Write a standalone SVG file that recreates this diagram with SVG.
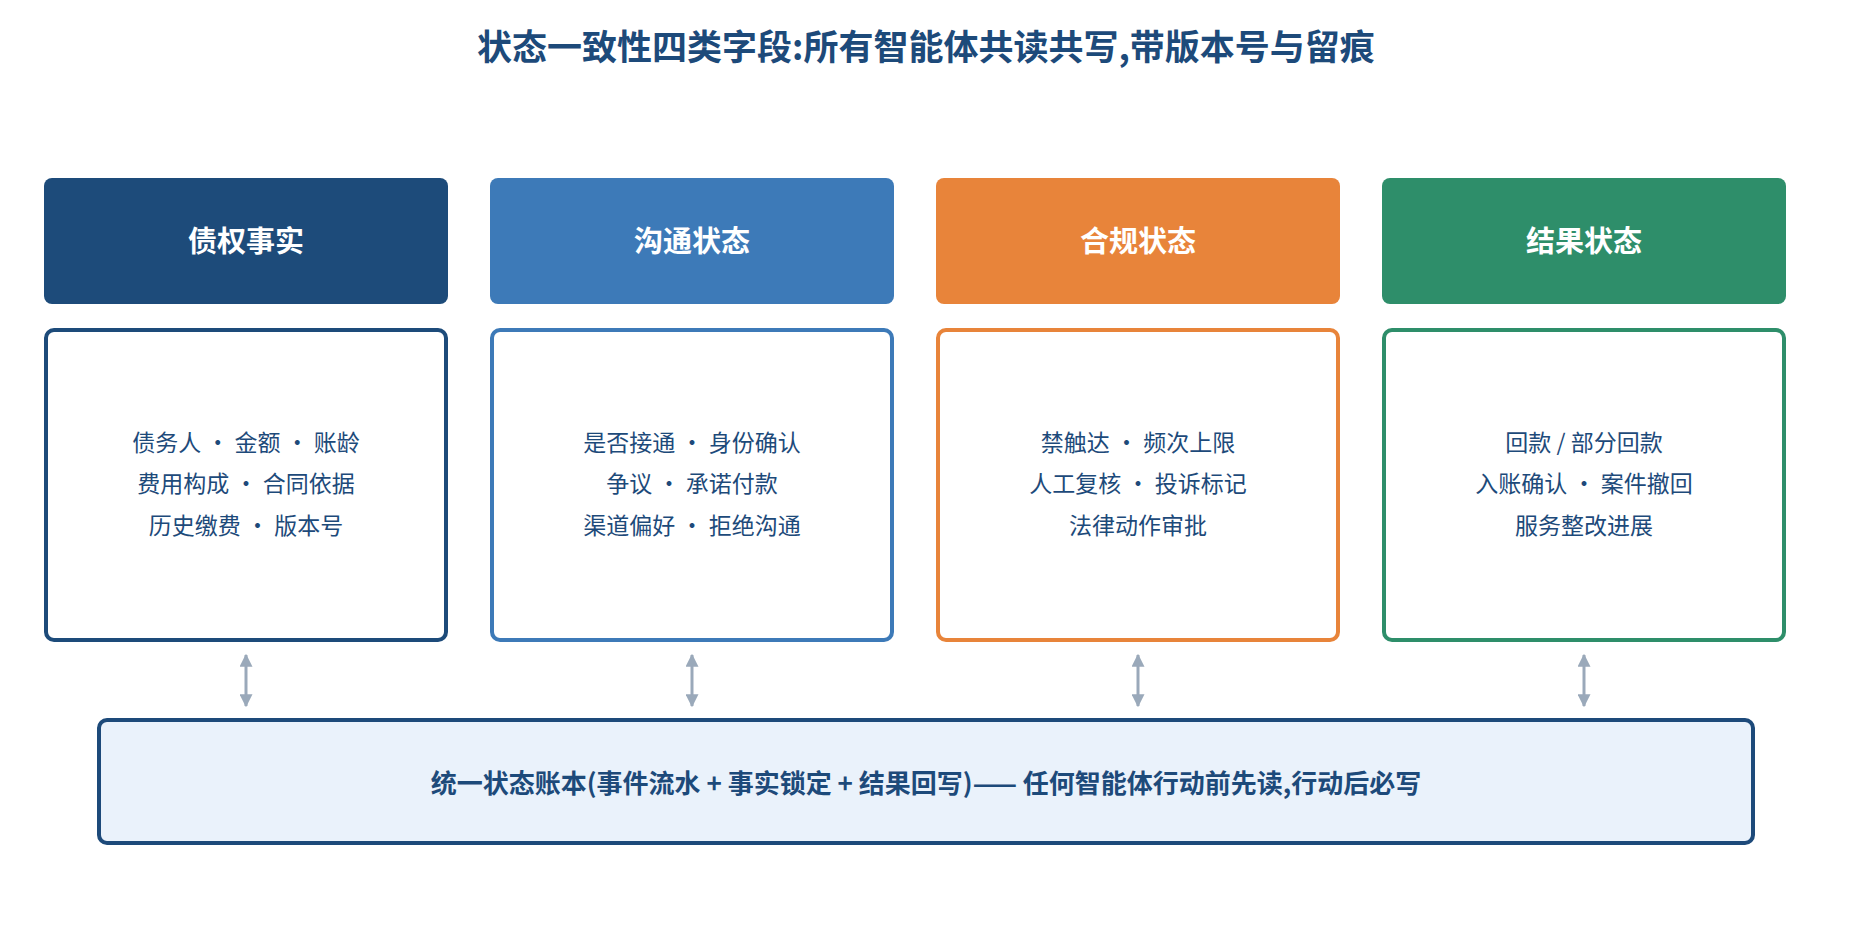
<svg xmlns="http://www.w3.org/2000/svg" width="1852" height="934" viewBox="0 0 1852 934">
<style>
text{font-family:"Noto Sans CJK SC","Noto Sans",sans-serif;text-anchor:middle;dominant-baseline:central}
.title{font-size:35px;font-weight:700;fill:#1d4a7a}
.hdr{font-size:29px;font-weight:700;fill:#ffffff}
.body{font-size:23px;fill:#1d4a7a}
.card{fill:#ffffff;stroke-width:4}
.conn{stroke:#9aa9ba;stroke-width:3;fill:none;marker-start:url(#ah);marker-end:url(#ah)}
.ledger{fill:#eaf2fb;stroke:#1d4a7a;stroke-width:4}
.ltxt{font-size:26px;font-weight:700;fill:#1d4a7a}
</style>
<defs>
<marker id="ah" viewBox="0 0 10 10" refX="9" refY="5" markerWidth="13" markerHeight="13" markerUnits="userSpaceOnUse" orient="auto-start-reverse">
<path d="M0,0 L10,5 L0,10 z" fill="#9aa9ba"/>
</marker>
</defs>
<rect width="1852" height="934" fill="#ffffff"/>
<text class="title" x="926" y="44">状态一致性四类字段:所有智能体共读共写,带版本号与留痕</text>

<g id="col1">
<rect x="44" y="178" width="404" height="126" rx="8" fill="#1d4b7a"/>
<text class="hdr" x="246" y="239">债权事实</text>
<rect class="card" x="46" y="330" width="400" height="310" rx="8" stroke="#1d4b7a"/>
<text class="body" x="246" y="441">债务人 · 金额 · 账龄</text>
<text class="body" x="246" y="482">费用构成 · 合同依据</text>
<text class="body" x="246" y="524">历史缴费 · 版本号</text>
</g>

<g id="col2">
<rect x="490" y="178" width="404" height="126" rx="8" fill="#3d7ab8"/>
<text class="hdr" x="692" y="239">沟通状态</text>
<rect class="card" x="492" y="330" width="400" height="310" rx="8" stroke="#3d7ab8"/>
<text class="body" x="692" y="441">是否接通 · 身份确认</text>
<text class="body" x="692" y="482">争议 · 承诺付款</text>
<text class="body" x="692" y="524">渠道偏好 · 拒绝沟通</text>
</g>

<g id="col3">
<rect x="936" y="178" width="404" height="126" rx="8" fill="#e8843a"/>
<text class="hdr" x="1138" y="239">合规状态</text>
<rect class="card" x="938" y="330" width="400" height="310" rx="8" stroke="#e8843a"/>
<text class="body" x="1138" y="441">禁触达 · 频次上限</text>
<text class="body" x="1138" y="482">人工复核 · 投诉标记</text>
<text class="body" x="1138" y="524">法律动作审批</text>
</g>

<g id="col4">
<rect x="1382" y="178" width="404" height="126" rx="8" fill="#2e8e6a"/>
<text class="hdr" x="1584" y="239">结果状态</text>
<rect class="card" x="1384" y="330" width="400" height="310" rx="8" stroke="#2e8e6a"/>
<text class="body" x="1584" y="441">回款 / 部分回款</text>
<text class="body" x="1584" y="482">入账确认 · 案件撤回</text>
<text class="body" x="1584" y="524">服务整改进展</text>
</g>

<g id="connectors">
<line class="conn" x1="246" y1="655" x2="246" y2="706"/>
<line class="conn" x1="692" y1="655" x2="692" y2="706"/>
<line class="conn" x1="1138" y1="655" x2="1138" y2="706"/>
<line class="conn" x1="1584" y1="655" x2="1584" y2="706"/>
</g>

<g id="ledger">
<rect class="ledger" x="99" y="720" width="1654" height="123" rx="8"/>
<text class="ltxt" x="926" y="781">统一状态账本(事件流水 + 事实锁定 + 结果回写)—— 任何智能体行动前先读,行动后必写</text>
</g>
</svg>
